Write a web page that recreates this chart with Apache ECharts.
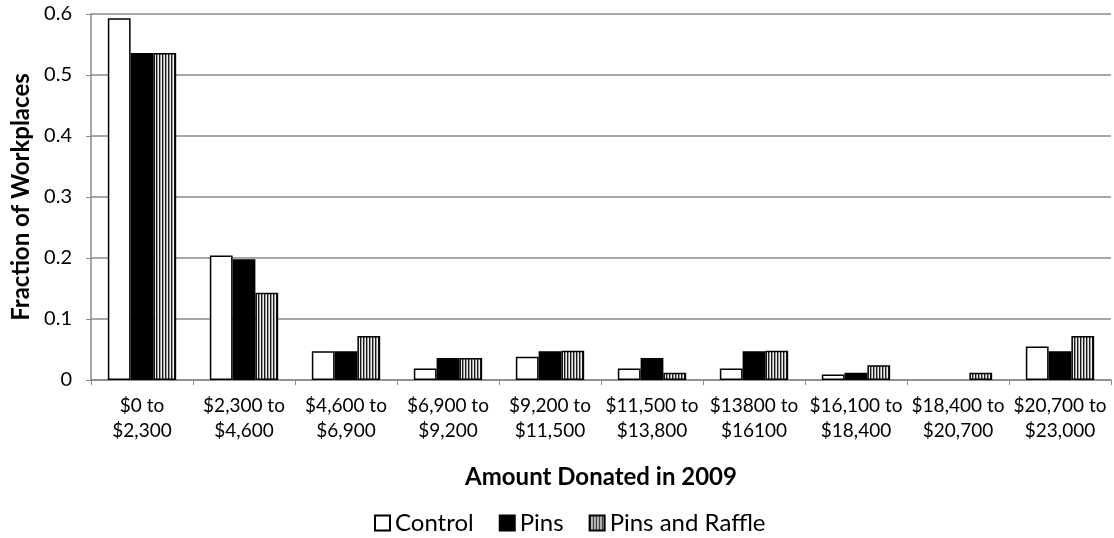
<!DOCTYPE html>
<html>
<head>
<meta charset="utf-8">
<script src="https://cdn.jsdelivr.net/npm/echarts@6/dist/echarts.min.js"></script>
<style>
    html, body { margin: 0; padding: 0; background: #fff; }
    #main { width: 1114px; height: 538px; }
</style>
</head>
<body>
<div id="main"></div>
<script>
    var categories = ['$0 to\n$2,300', '$2,300 to\n$4,600', '$4,600 to\n$6,900', '$6,900 to\n$9,200',
        '$9,200 to\n$11,500', '$11,500 to\n$13,800', '$13800 to\n$16100', '$16,100 to\n$18,400',
        '$18,400 to\n$20,700', '$20,700 to\n$23,000'];
    var control = [0.593, 0.204, 0.047, 0.019, 0.038, 0.019, 0.019, 0.009, 0, 0.055];
    var pins = [0.536, 0.198, 0.047, 0.036, 0.047, 0.036, 0.047, 0.012, 0, 0.047];
    var raffle = [0.536, 0.143, 0.072, 0.036, 0.048, 0.012, 0.048, 0.024, 0.012, 0.072];
    var yTicks = [0, 0.1, 0.2, 0.3, 0.4, 0.5, 0.6];

    var font = 'Lato, Calibri, sans-serif';

    // zero bars are not drawn at all in the original
    function bars(arr) {
        return arr.map(function (v) { return v === 0 ? '-' : v; });
    }

    // vertical stripe pattern for the raffle bars
    var stripe = document.createElement('canvas');
    stripe.width = 3;
    stripe.height = 4;
    (function (ctx) {
        ['#1a1a1a', '#9a9a9a', '#efefef'].forEach(function (c, i) {
            ctx.fillStyle = c;
            ctx.fillRect(i, 0, 1, 4);
        });
    })(stripe.getContext('2d'));

    var chart = echarts.init(document.getElementById('main'));
    chart.setOption({
        animation: false,
        textStyle: { fontFamily: font },
        grid: { left: 91, right: 3, top: 14, bottom: 158, outerBoundsMode: 'none' },
        legend: {
            left: 369,
            top: 506,
            itemWidth: 15,
            itemHeight: 15,
            itemGap: 25,
            textStyle: { fontSize: 24, color: '#000', fontFamily: font },
            data: [
                { name: 'Control', icon: 'rect' },
                { name: 'Pins', icon: 'rect' },
                { name: 'Pins and Raffle', icon: 'rect' }
            ]
        },
        xAxis: {
            type: 'category',
            data: categories,
            name: 'Amount Donated in 2009',
            nameLocation: 'middle',
            nameGap: 85,
            nameTextStyle: { fontSize: 24, fontWeight: 'bold', color: '#000', fontFamily: font },
            axisLine: { lineStyle: { color: '#898989', width: 1.5 } },
            axisTick: { show: true, length: 5, lineStyle: { color: '#898989' } },
            axisLabel: { color: '#000', fontSize: 19, lineHeight: 25, margin: 13, interval: 0 }
        },
        yAxis: {
            type: 'value',
            min: 0,
            max: 0.6,
            interval: 0.1,
            name: 'Fraction of Workplaces',
            nameLocation: 'middle',
            nameGap: 56,
            nameTextStyle: { fontSize: 24, fontWeight: 'bold', color: '#000', fontFamily: font },
            axisLine: { show: true, lineStyle: { color: '#898989', width: 1.5 } },
            axisTick: { show: true, length: 5, lineStyle: { color: '#898989' } },
            splitLine: { lineStyle: { color: '#898989', width: 1.5 } },
            axisLabel: {
                color: '#000',
                fontSize: 20,
                margin: 19,
                formatter: function (v) {
                    return yTicks.indexOf(+v.toFixed(1)) >= 0 ? (v === 0 ? '0' : v.toFixed(1)) : '';
                }
            }
        },
        series: [
            {
                name: 'Control',
                type: 'bar',
                data: bars(control),
                barGap: '0%',
                barCategoryGap: '33%',
                itemStyle: { color: '#fff', borderColor: '#000', borderWidth: 1.5 }
            },
            {
                name: 'Pins',
                type: 'bar',
                data: bars(pins),
                itemStyle: { color: '#000', borderColor: '#000', borderWidth: 1.5 }
            },
            {
                name: 'Pins and Raffle',
                type: 'bar',
                data: bars(raffle),
                itemStyle: {
                    color: { image: stripe, repeat: 'repeat' },
                    borderColor: '#000',
                    borderWidth: 1.5
                }
            }
        ]
    });
</script>
</body>
</html>
